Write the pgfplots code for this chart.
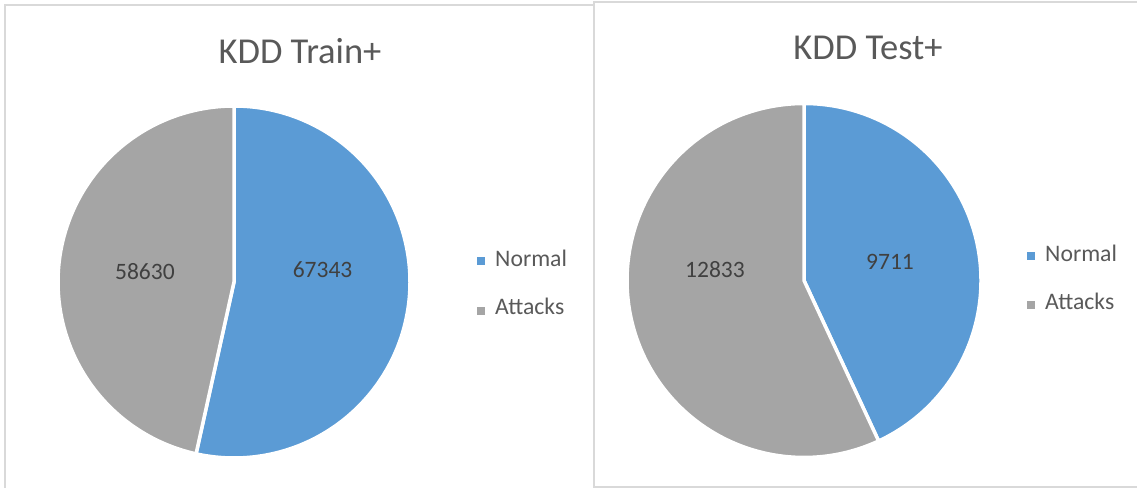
\documentclass[border=0pt]{standalone}
\usepackage{pgfplots}
\pgfplotsset{compat=1.18}
\usepackage{fontspec}
\setmainfont{Carlito}
\definecolor{pieblue}{HTML}{5B9BD5}
\definecolor{piegray}{HTML}{A5A5A5}
\definecolor{titlegray}{HTML}{595959}
\definecolor{labelgray}{HTML}{404040}
\definecolor{boxgray}{HTML}{D9D9D9}
% data
\def\trainNormal{67343}
\def\trainAttacks{58630}
\def\testNormal{9711}
\def\testAttacks{12833}
\edef\trainSplit{\fpeval{90-360*\trainNormal/(\trainNormal+\trainAttacks)}}
\edef\testSplit{\fpeval{90-360*\testNormal/(\testNormal+\testAttacks)}}
\pgfplotsset{
  pie/.style={
    hide axis, scale only axis, clip=false,
    xmin=-1, xmax=1, ymin=-1, ymax=1,
  },
  slice/.style={fill=#1, draw=white, line width=3.5bp, line join=round, samples=240, variable=\t},
}
\tikzset{
  lab/.style={text=labelgray, font=\fontsize{23.5bp}{26bp}\selectfont},
  legtxt/.style={anchor=base west, inner sep=0pt, text=titlegray, font=\fontsize{23.7bp}{26bp}\selectfont},
  legsq/.style={fill=#1, minimum size=8bp, inner sep=0pt, draw=none},
}
\begin{document}
\begin{tikzpicture}[x=1bp,y=1bp]
\path[use as bounding box] (0,0) rectangle (1137,488);
\draw[boxgray, line width=2bp] (5,-10) -- (5,483) -- (593.5,483);
\draw[boxgray, line width=2bp] (593.5,-10) -- (593.5,1) -- (1150,1);
\draw[boxgray, line width=2bp] (593.5,1) -- (593.5,486) -- (1150,486);
\node[anchor=base, text=titlegray, font=\fontsize{36.5bp}{40bp}\selectfont] at (300,424) {KDD Train+};
\node[anchor=base, text=titlegray, font=\fontsize{36.5bp}{40bp}\selectfont] at (868,428.5) {KDD Test+};

\begin{axis}[pie, width=352bp, height=352bp, at={(234bp,206bp)}, anchor=center]
\addplot[slice=pieblue, domain=\trainSplit:90] ({cos(\t)},{sin(\t)}) -- (axis cs:0,0) -- cycle;
\addplot[slice=piegray, domain=-270:\trainSplit] ({cos(\t)},{sin(\t)}) -- (axis cs:0,0) -- cycle;
\node[lab] at (axis cs:0.503,0.068) {\trainNormal};
\node[lab] at (axis cs:-0.506,0.057) {\trainAttacks};
\end{axis}

\begin{axis}[pie, width=354bp, height=354bp, at={(804bp,207.5bp)}, anchor=center]
\addplot[slice=pieblue, domain=\testSplit:90] ({cos(\t)},{sin(\t)}) -- (axis cs:0,0) -- cycle;
\addplot[slice=piegray, domain=-270:\testSplit] ({cos(\t)},{sin(\t)}) -- (axis cs:0,0) -- cycle;
\node[lab] at (axis cs:0.486,0.105) {\testNormal};
\node[lab] at (axis cs:-0.503,0.059) {\testAttacks};
\end{axis}

% legends
\node[legsq=pieblue] at (481,226.5) {};
\node[legtxt] at (495,221) {Normal};
\node[legsq=piegray] at (481,176.5) {};
\node[legtxt] at (495,173) {Attacks};
\node[legsq=pieblue] at (1031,231.5) {};
\node[legtxt] at (1045,226.3) {Normal};
\node[legsq=piegray] at (1031,183) {};
\node[legtxt] at (1045,178) {Attacks};
\end{tikzpicture}
\end{document}
